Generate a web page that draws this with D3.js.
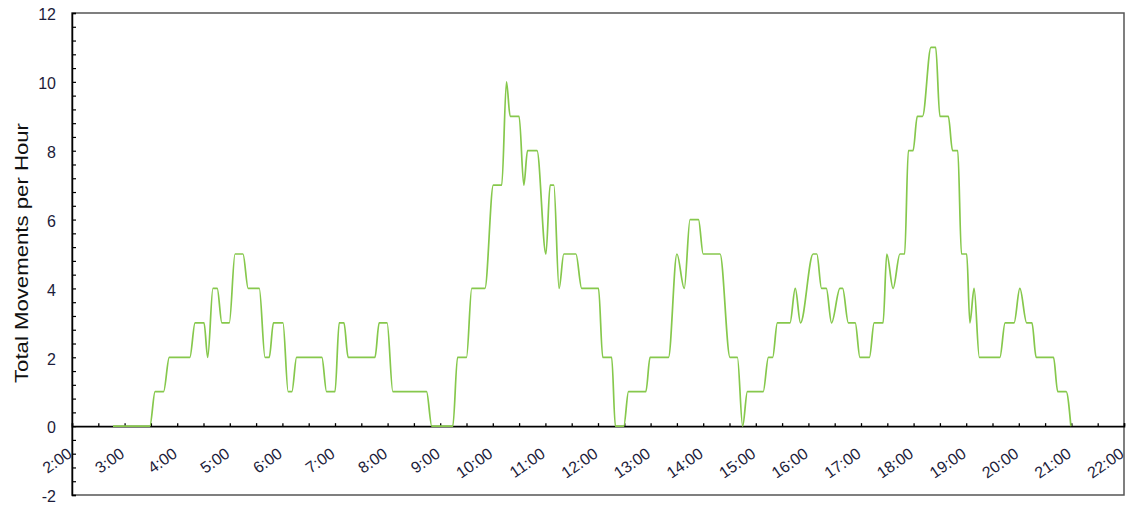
<!DOCTYPE html>
<html>
<head>
<meta charset="utf-8">
<script src="https://cdn.jsdelivr.net/npm/d3@7"></script>
<style>
  html, body { margin: 0; padding: 0; background: #fff; }
  svg { display: block; font-family: "Liberation Sans", Arial, sans-serif; }
</style>
</head>
<body>
<svg id="chart" width="1128" height="509"></svg>
<script>
// ---- data ----
// time of each vertex in decimal hours
const times = [
  2.78, 3.48, 3.58, 3.74, 3.85, 4.24, 4.34, 4.51, 4.58, 4.68,
  4.76, 4.85, 4.99, 5.10, 5.25, 5.35, 5.56, 5.67, 5.75, 5.83,
  6.01, 6.11, 6.18, 6.27, 6.75, 6.84, 7.00, 7.08, 7.17, 7.25,
  7.76, 7.84, 7.99, 8.10, 8.74, 8.84, 9.24, 9.33, 9.50, 9.60,
  9.85, 10.01, 10.17, 10.26, 10.33, 10.50, 10.59, 10.66, 10.84, 11.01,
  11.09, 11.16, 11.26, 11.35, 11.58, 11.69, 12.01, 12.09, 12.26, 12.33,
  12.49, 12.58, 12.91, 12.99, 13.34, 13.50, 13.64, 13.75, 13.91, 14.00,
  14.32, 14.51, 14.65, 14.75, 14.84, 15.14, 15.24, 15.32, 15.41, 15.65,
  15.75, 15.85, 16.09, 16.16, 16.25, 16.34, 16.44, 16.60, 16.65, 16.76,
  16.89, 16.98, 17.16, 17.25, 17.42, 17.49, 17.61, 17.74, 17.83, 17.90,
  17.99, 18.07, 18.17, 18.33, 18.42, 18.50, 18.66, 18.74, 18.84, 18.91,
  19.01, 19.07, 19.15, 19.25, 19.64, 19.74, 19.91, 20.02, 20.15, 20.25,
  20.33, 20.66, 20.74, 20.90, 20.99
];
// total movements per hour at each vertex
const movements = [
  0, 0, 1, 1, 2, 2, 3, 3, 2, 4,
  4, 3, 3, 5, 5, 4, 4, 2, 2, 3,
  3, 1, 1, 2, 2, 1, 1, 3, 3, 2,
  2, 3, 3, 1, 1, 0, 0, 2, 2, 4,
  4, 7, 7, 10, 9, 9, 7, 8, 8, 5,
  7, 7, 4, 5, 5, 4, 4, 2, 2, 0,
  0, 1, 1, 2, 2, 5, 4, 6, 6, 5,
  5, 2, 2, 0, 1, 1, 2, 2, 3, 3,
  4, 3, 5, 5, 4, 4, 3, 4, 4, 3,
  3, 2, 2, 3, 3, 5, 4, 5, 5, 8,
  8, 9, 9, 11, 11, 9, 9, 8, 8, 5,
  5, 3, 4, 2, 2, 3, 3, 4, 3, 3,
  2, 2, 1, 1, 0
];
const xTickHours = d3.range(2, 23);
const xTickLabels = xTickHours.map(h => h + ":00");
const yTickValues = [-2, 0, 2, 4, 6, 8, 10, 12];
const yLabel = "Total Movements per Hour";

// ---- layout ----
const svg = d3.select("#chart");
const mLeft = 72, mRight = 1124, mTop = 13, mBottom = 495;

const x = d3.scaleLinear().domain([2, 22]).range([mLeft, mRight]);
const y = d3.scaleLinear().domain([-2, 12]).range([mBottom, mTop]);

const textColor = "#1c1c3a";

// frame
svg.append("rect")
  .attr("x", mLeft).attr("y", mTop)
  .attr("width", mRight - mLeft).attr("height", mBottom - mTop)
  .attr("fill", "none").attr("stroke", "#555").attr("stroke-width", 1.5);

// left axis with minor ticks (inside)
const yAxis = d3.axisRight(y)
  .tickValues(d3.range(-2, 12.001, 0.4))
  .tickSize(4)
  .tickFormat("");
const gy = svg.append("g").attr("transform", `translate(${mLeft},0)`).call(yAxis);
gy.select(".domain").attr("stroke", "#000").attr("stroke-width", 1.5);
gy.selectAll(".tick line").attr("stroke", "#000").attr("stroke-width", 1.2);

// y tick labels
svg.append("g").selectAll("text")
  .data(yTickValues).join("text")
  .attr("x", mLeft - 16)
  .attr("y", d => y(d) + 3)
  .attr("text-anchor", "end")
  .attr("dominant-baseline", "middle")
  .attr("font-size", 16)
  .attr("fill", textColor)
  .text(d => d);

// y axis title
svg.append("text")
  .attr("transform", `translate(28,${(123 + 383) / 2}) rotate(-90)`)
  .attr("text-anchor", "middle")
  .attr("font-size", 19)
  .attr("textLength", 260)
  .attr("lengthAdjust", "spacingAndGlyphs")
  .attr("fill", "#111")
  .text(yLabel);

// zero axis line with upward ticks at every half hour
const xAxis = d3.axisTop(x)
  .tickValues(d3.range(2, 22.001, 0.5))
  .tickSize(3)
  .tickFormat("");
const gx = svg.append("g").attr("transform", `translate(0,${y(0)})`).call(xAxis);
gx.select(".domain").attr("stroke", "#000").attr("stroke-width", 1.6);
gx.selectAll(".tick line").attr("stroke", "#000").attr("stroke-width", 1.3);

// x tick labels, rotated
svg.append("g").selectAll("text")
  .data(xTickHours).join("text")
  .attr("transform", d => `translate(${x(d) + 1},${y(0) + 30}) rotate(-35)`)
  .attr("text-anchor", "end")
  .attr("font-size", 16)
  .attr("fill", textColor)
  .text((d, i) => xTickLabels[i]);

// data line
const pts = times.map((t, i) => ({ t, v: movements[i] }));
const line = d3.line()
  .x(d => x(d.t))
  .y(d => y(d.v))
  .curve(d3.curveMonotoneX);
svg.append("path")
  .datum(pts)
  .attr("d", line)
  .attr("fill", "none")
  .attr("stroke", "#86c84c")
  .attr("stroke-width", 1.7)
  .attr("stroke-linejoin", "round");
</script>
</body>
</html>
